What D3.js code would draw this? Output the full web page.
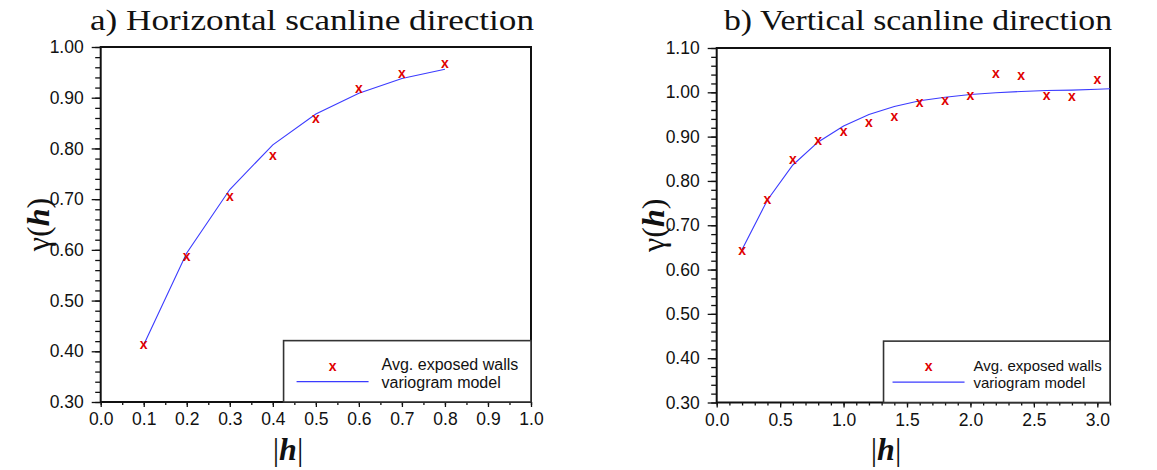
<!DOCTYPE html>
<html>
<head>
<meta charset="utf-8">
<script src="https://cdn.jsdelivr.net/npm/d3@7"></script>
<style>
  body { margin: 0; background: #fff; }
  svg { display: block; }
  .tick text { font-family: "Liberation Sans", Arial, sans-serif; font-size: 17.5px; fill: #111; }
  .tick line { stroke: #111; stroke-width: 1.3; }
</style>
</head>
<body>
<div id="chart"></div>
<script>
// Panel a) horizontal scanline
var hLags = [0.1, 0.2, 0.3, 0.4, 0.5, 0.6, 0.7, 0.8];
var hGamma = [0.413, 0.587, 0.705, 0.785, 0.858, 0.918, 0.947, 0.968];
var hModel = [0.413, 0.594, 0.719, 0.807, 0.868, 0.909, 0.938, 0.956];
var hXTicks = [0, 0.1, 0.2, 0.3, 0.4, 0.5, 0.6, 0.7, 0.8, 0.9, 1.0];
var hYTicks = [0.3, 0.4, 0.5, 0.6, 0.7, 0.8, 0.9, 1.0];

// Panel b) vertical scanline
var vLags = [0.2, 0.4, 0.6, 0.8, 1.0, 1.2, 1.4, 1.6, 1.8, 2.0, 2.2, 2.4, 2.6, 2.8, 3.0];
var vGamma = [0.643, 0.758, 0.849, 0.891, 0.910, 0.932, 0.946, 0.977, 0.982, 0.993, 1.043, 1.038, 0.993, 0.989, 1.029];
var vModelLags = [0.2, 0.4, 0.6, 0.8, 1.0, 1.2, 1.4, 1.6, 1.8, 2.0, 2.2, 2.4, 2.6, 2.8, 3.0, 3.1];
var vModel = [0.645, 0.757, 0.836, 0.888, 0.924, 0.950, 0.968, 0.981, 0.989, 0.995, 0.999, 1.002, 1.004, 1.005, 1.007, 1.008];
var vXTicks = [0, 0.5, 1.0, 1.5, 2.0, 2.5, 3.0];
var vYTicks = [0.3, 0.4, 0.5, 0.6, 0.7, 0.8, 0.9, 1.0, 1.1];

var legendLabels = ["Avg. exposed walls", "variogram model"];

var svg = d3.select("#chart").append("svg")
    .attr("width", 1157)
    .attr("height", 470);

function drawPanel(p) {
    var x = d3.scaleLinear().domain(p.xDomain).range([p.left, p.right]);
    var y = d3.scaleLinear().domain(p.yDomain).range([p.bottom, p.top]);
    var g = svg.append("g");

    // minor ticks
    g.append("g")
        .attr("transform", "translate(0," + p.bottom + ")")
        .call(d3.axisBottom(x).tickValues(d3.range(p.xDomain[0], p.xDomain[1] + 1e-9, p.xMinor)).tickSize(3).tickFormat(""))
        .call(function(a) { a.select(".domain").remove(); });
    g.append("g")
        .attr("transform", "translate(" + p.left + ",0)")
        .call(d3.axisLeft(y).tickValues(d3.range(p.yDomain[0], p.yDomain[1] + 1e-9, 0.02)).tickSize(5.5).tickFormat(""))
        .call(function(a) { a.select(".domain").remove(); });

    // major ticks
    g.append("g")
        .attr("transform", "translate(0," + p.bottom + ")")
        .call(d3.axisBottom(x).tickValues(p.xTicks).tickSize(5).tickPadding(6).tickFormat(d3.format(".1f")))
        .call(function(a) { a.select(".domain").remove(); });
    g.append("g")
        .attr("transform", "translate(" + p.left + ",0)")
        .call(d3.axisLeft(y).tickValues(p.yTicks).tickSize(9).tickPadding(8).tickFormat(d3.format(".2f")))
        .call(function(a) { a.select(".domain").remove(); });

    // frame
    g.append("rect")
        .attr("x", p.left).attr("y", p.top)
        .attr("width", p.right - p.left).attr("height", p.bottom - p.top)
        .attr("fill", "none").attr("stroke", "#111").attr("stroke-width", 2);

    // model line
    var line = d3.line()
        .x(function(d) { return x(d[0]); })
        .y(function(d) { return y(d[1]); });
    g.append("path")
        .datum(d3.zip(p.modelLags, p.model))
        .attr("d", line)
        .attr("fill", "none")
        .attr("stroke", "#3b3bff")
        .attr("stroke-width", 1.1);

    // experimental points
    g.selectAll(".pt")
        .data(d3.zip(p.lags, p.gamma))
        .enter().append("text")
        .attr("class", "pt")
        .attr("x", function(d) { return x(d[0]); })
        .attr("y", function(d) { return y(d[1]) + 4.3; })
        .attr("text-anchor", "middle")
        .attr("font-family", "Liberation Sans, Arial, sans-serif")
        .attr("font-weight", "bold")
        .attr("font-size", 14)
        .attr("fill", "#e00000")
        .text("x");

    // legend
    var lg = g.append("g");
    lg.append("rect")
        .attr("x", x(p.legX)).attr("y", y(p.legY))
        .attr("width", p.right - x(p.legX)).attr("height", p.bottom - y(p.legY))
        .attr("fill", "#fff").attr("stroke", "#333").attr("stroke-width", 1.6);
    var lx = x(p.legX);
    lg.append("text")
        .attr("x", lx + p.legMark).attr("y", y(p.legY) + 30)
        .attr("text-anchor", "middle")
        .attr("font-family", "Liberation Sans, Arial, sans-serif")
        .attr("font-weight", "bold").attr("font-size", 14)
        .attr("fill", "#e00000").text("x");
    lg.append("line")
        .attr("x1", lx + p.legMark - 36).attr("x2", lx + p.legMark + 36)
        .attr("y1", y(p.legY) + 41).attr("y2", y(p.legY) + 41)
        .attr("stroke", "#3b3bff").attr("stroke-width", 1.1);
    lg.selectAll(".lt")
        .data(legendLabels)
        .enter().append("text")
        .attr("x", lx + p.legText)
        .attr("y", function(d, i) { return y(p.legY) + 29.5 + i * 17.5; })
        .attr("font-family", "Liberation Sans, Arial, sans-serif")
        .attr("font-size", p.legFont)
        .attr("fill", "#111")
        .text(function(d) { return d; });

    // title
    svg.append("text")
        .attr("x", p.titleX).attr("y", 30)
        .attr("textLength", p.titleLen)
        .attr("lengthAdjust", "spacingAndGlyphs")
        .attr("font-family", "Liberation Serif, serif")
        .attr("font-size", 30)
        .attr("fill", "#111")
        .text(p.title);

    // y label
    var yl = svg.append("text")
        .attr("transform", "translate(" + p.yLabelX + "," + ((p.top + p.bottom) / 2) + ") rotate(-90)")
        .attr("text-anchor", "middle")
        .attr("font-family", "Liberation Serif, serif")
        .attr("font-size", 32)
        .attr("fill", "#111");
    yl.append("tspan").text("\u03b3(");
    yl.append("tspan").attr("font-weight", "bold").attr("font-style", "italic").text("h");
    yl.append("tspan").text(")");

    // x label
    var xl = svg.append("text")
        .attr("x", p.xLabelX).attr("y", 460)
        .attr("text-anchor", "middle")
        .attr("font-family", "Liberation Serif, serif")
        .attr("font-size", 32)
        .attr("fill", "#111");
    xl.append("tspan").text("|");
    xl.append("tspan").attr("font-weight", "bold").attr("font-style", "italic").text("h");
    xl.append("tspan").text("|");
}

drawPanel({
    left: 100.7, right: 531, top: 47, bottom: 402,
    xDomain: [0, 1.0], yDomain: [0.3, 1.0], xMinor: 0.05,
    xTicks: hXTicks, yTicks: hYTicks,
    lags: hLags, gamma: hGamma, modelLags: hLags, model: hModel,
    legX: 0.425, legY: 0.421, legMark: 49, legText: 98, legFont: 16,
    title: "a) Horizontal scanline direction", titleX: 90, titleLen: 444,
    yLabelX: 49, xLabelX: 288
});

drawPanel({
    left: 716.7, right: 1110, top: 48, bottom: 402.5,
    xDomain: [0, 3.1], yDomain: [0.3, 1.1], xMinor: 0.1,
    xTicks: vXTicks, yTicks: vYTicks,
    lags: vLags, gamma: vGamma, modelLags: vModelLags, model: vModel,
    legX: 1.315, legY: 0.4385, legMark: 45, legText: 90, legFont: 15,
    title: "b) Vertical scanline direction", titleX: 724, titleLen: 388,
    yLabelX: 664, xLabelX: 886
});
</script>
</body>
</html>
